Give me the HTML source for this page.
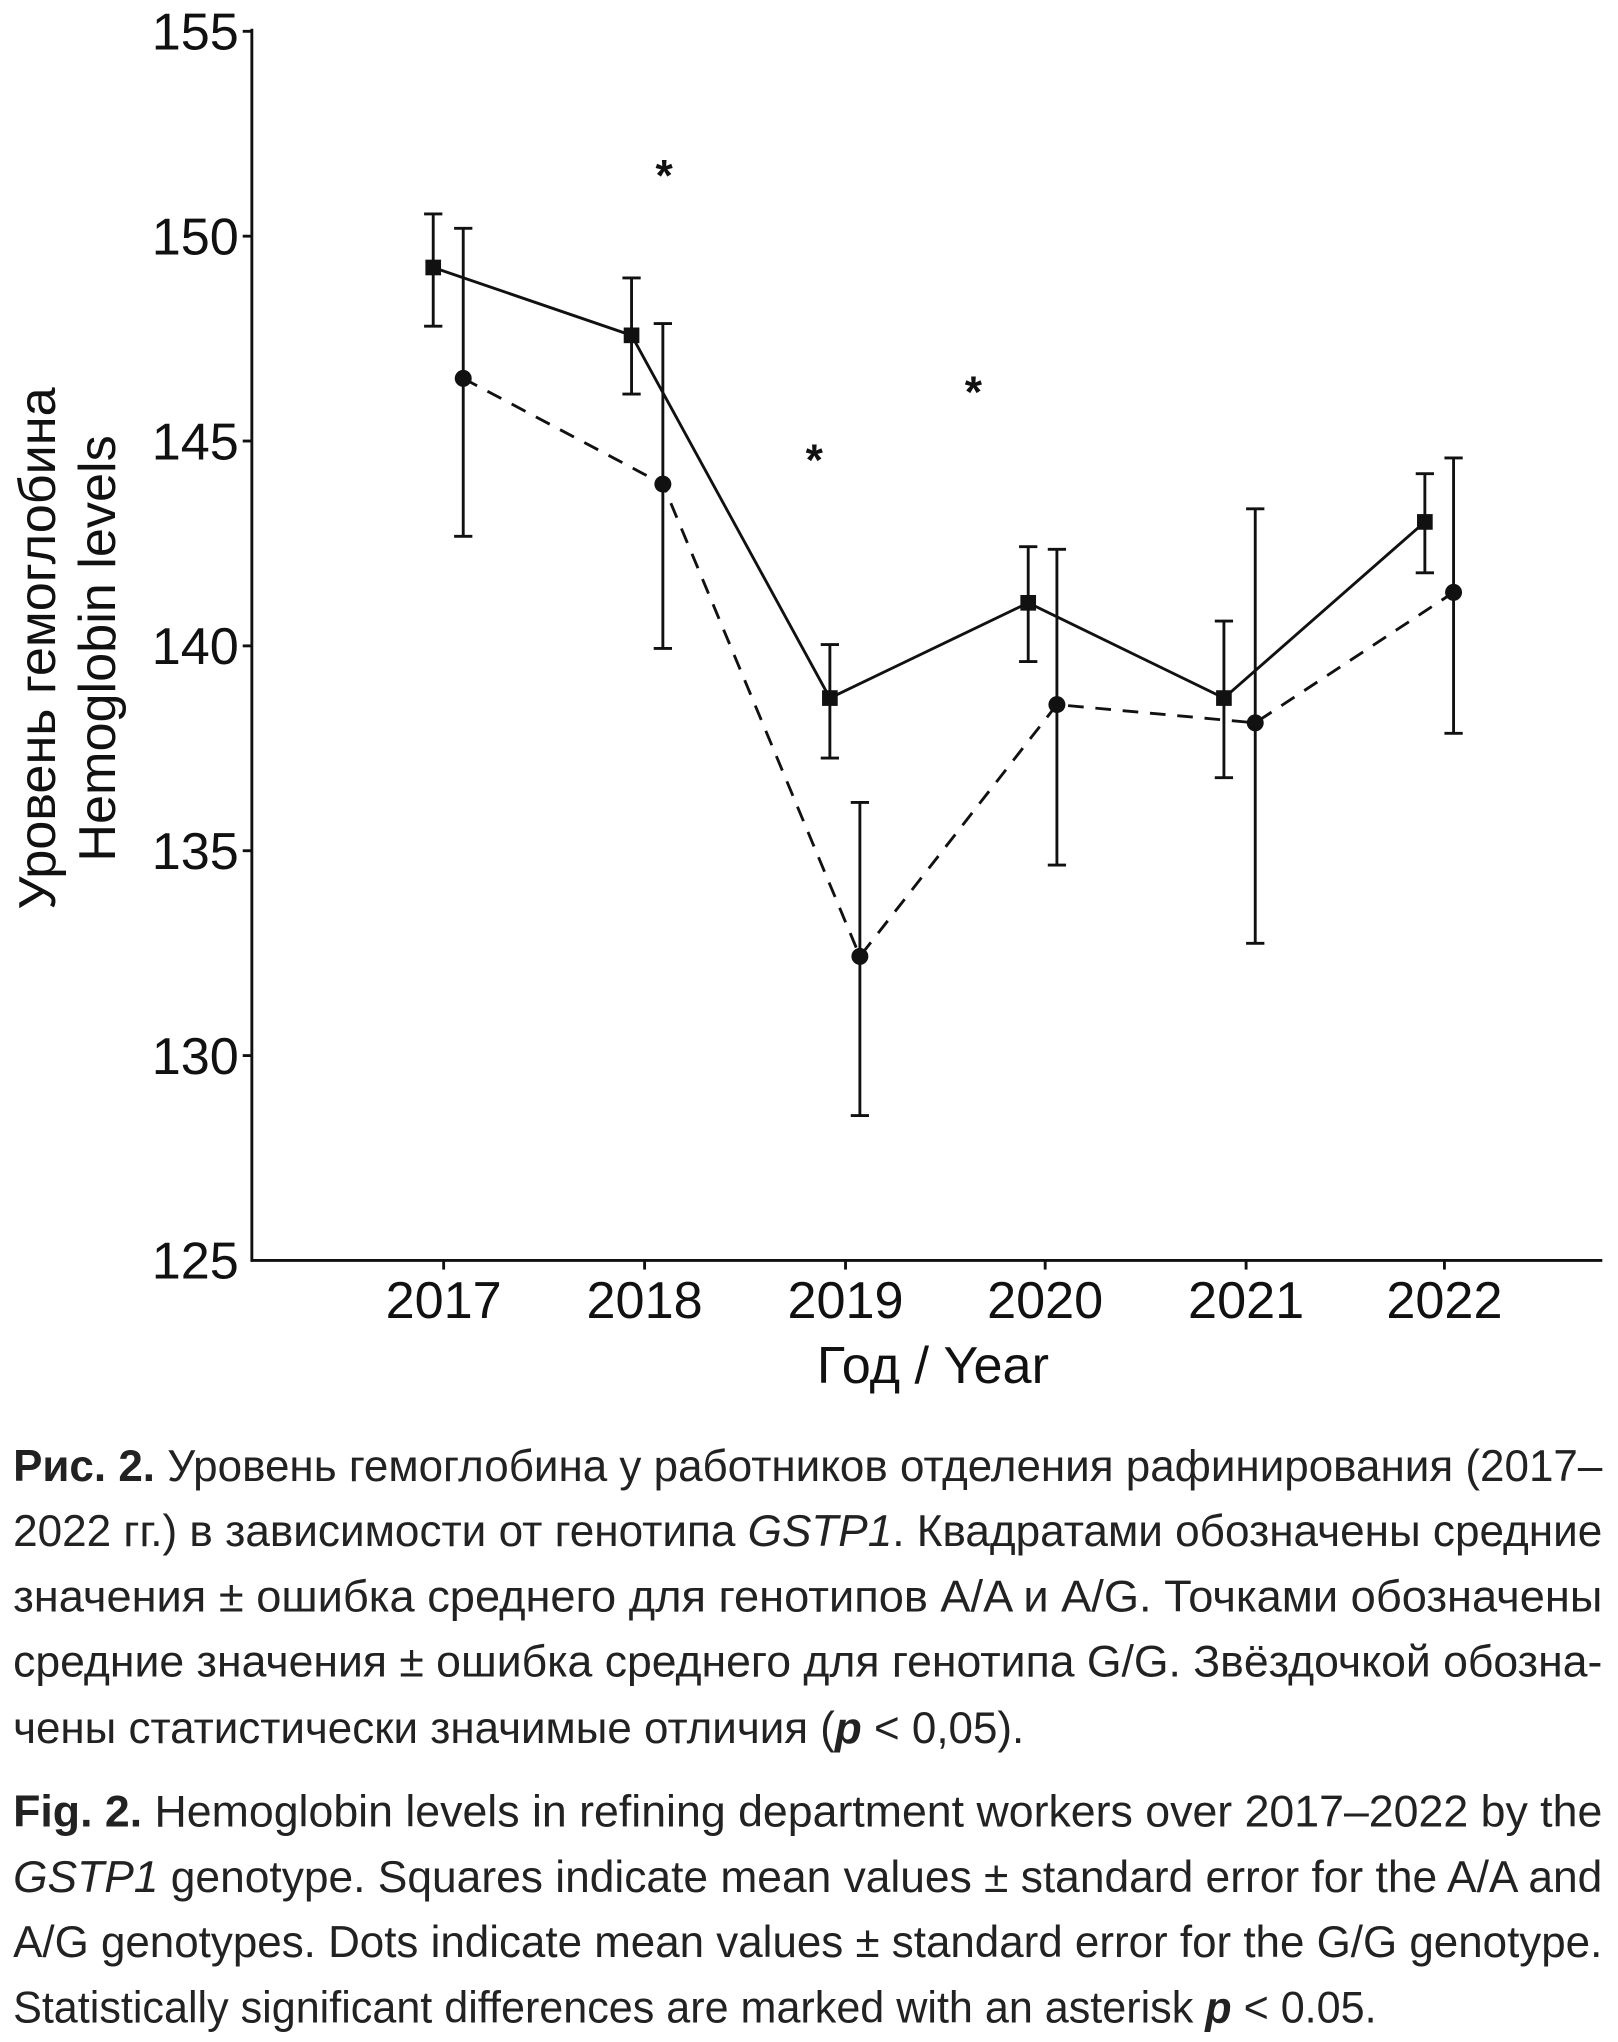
<!DOCTYPE html>
<html><head><meta charset="utf-8"><style>html,body{margin:0;padding:0;background:#fff}svg{display:block}</style></head>
<body>
<svg width="1618" height="2042" viewBox="0 0 1240 1565" xmlns="http://www.w3.org/2000/svg" font-family="Liberation Sans, sans-serif">
<rect width="1240" height="1565" fill="#fff"/>
<g stroke="#111" stroke-width="2.2" fill="none">
<line x1="193" y1="22" x2="193" y2="967"/>
<line x1="192" y1="966" x2="1228" y2="966"/>
<line x1="186" y1="24" x2="193" y2="24"/>
<line x1="186" y1="181" x2="193" y2="181"/>
<line x1="186" y1="338" x2="193" y2="338"/>
<line x1="186" y1="495" x2="193" y2="495"/>
<line x1="186" y1="652" x2="193" y2="652"/>
<line x1="186" y1="809" x2="193" y2="809"/>
<line x1="340" y1="966" x2="340" y2="973"/>
<line x1="494" y1="966" x2="494" y2="973"/>
<line x1="648" y1="966" x2="648" y2="973"/>
<line x1="801" y1="966" x2="801" y2="973"/>
<line x1="955" y1="966" x2="955" y2="973"/>
<line x1="1107" y1="966" x2="1107" y2="973"/>
</g>
<g font-size="40" fill="#111" text-anchor="end">
<text x="183" y="38">155</text><text x="183" y="195">150</text><text x="183" y="352">145</text>
<text x="183" y="509">140</text><text x="183" y="666">135</text><text x="183" y="823">130</text><text x="183" y="980">125</text>
</g>
<g font-size="40" fill="#111" text-anchor="middle">
<text x="340" y="1010">2017</text><text x="494" y="1010">2018</text><text x="648" y="1010">2019</text>
<text x="801" y="1010">2020</text><text x="955" y="1010">2021</text><text x="1107" y="1010">2022</text>
<text x="715" y="1060">Год / Year</text>
<text transform="translate(42,497) rotate(-90)">Уровень гемоглобина</text>
<text transform="translate(88,497) rotate(-90)">Hemoglobin levels</text>
</g>
<g stroke="#111" stroke-width="2.2" fill="none">
<polyline points="332,205 484,257 636,535 788,462 938,535 1092,400"/>
<polyline points="355,290 508,371 659,733 810,540 962,554 1114,454" stroke-dasharray="12,9"/>
<path d="M332,164V250M325,164H339M325,250H339
M484,213V302M477,213H491M477,302H491
M636,494V581M629,494H643M629,581H643
M788,419V507M781,419H795M781,507H795
M938,476V596M931,476H945M931,596H945
M1092,363V439M1085,363H1099M1085,439H1099
M355,175V411M348,175H362M348,411H362
M508,248V497M501,248H515M501,497H515
M659,615V855M652,615H666M652,855H666
M810,421V663M803,421H817M803,663H817
M962,390V723M955,390H969M955,723H969
M1114,351V562M1107,351H1121M1107,562H1121"/>
</g>
<g fill="#111">
<rect x="326" y="199" width="12" height="12"/><rect x="478" y="251" width="12" height="12"/>
<rect x="630" y="529" width="12" height="12"/><rect x="782" y="456" width="12" height="12"/>
<rect x="932" y="529" width="12" height="12"/><rect x="1086" y="394" width="12" height="12"/>
<circle cx="355" cy="290" r="6.5"/><circle cx="508" cy="371" r="6.5"/><circle cx="659" cy="733" r="6.5"/>
<circle cx="810" cy="540" r="6.5"/><circle cx="962" cy="554" r="6.5"/><circle cx="1114" cy="454" r="6.5"/>
</g>
<g font-size="34" font-weight="bold" fill="#111" text-anchor="middle">
<text x="509" y="146">*</text><text x="624" y="364">*</text><text x="746" y="312">*</text>
</g>
<g font-size="34" fill="#222">
<text x="10" y="1135" textLength="1218" lengthAdjust="spacingAndGlyphs"><tspan font-weight="bold">Рис. 2.</tspan> Уровень гемоглобина у работников отделения рафинирования (2017–</text>
<text x="10" y="1185" textLength="1218" lengthAdjust="spacingAndGlyphs">2022 гг.) в зависимости от генотипа <tspan font-style="italic">GSTP1</tspan>. Квадратами обозначены средние</text>
<text x="10" y="1235" textLength="1218" lengthAdjust="spacingAndGlyphs">значения ± ошибка среднего для генотипов A/A и A/G. Точками обозначены</text>
<text x="10" y="1285" textLength="1218" lengthAdjust="spacingAndGlyphs">средние значения ± ошибка среднего для генотипа G/G. Звёздочкой обозна-</text>
<text x="10" y="1336" textLength="775" lengthAdjust="spacingAndGlyphs">чены статистически значимые отличия (<tspan font-style="italic" font-weight="bold">p</tspan> &lt; 0,05).</text>
<text x="10" y="1400" textLength="1218" lengthAdjust="spacingAndGlyphs"><tspan font-weight="bold">Fig. 2.</tspan> Hemoglobin levels in refining department workers over 2017–2022 by the</text>
<text x="10" y="1450" textLength="1218" lengthAdjust="spacingAndGlyphs"><tspan font-style="italic">GSTP1</tspan> genotype. Squares indicate mean values ± standard error for the A/A and</text>
<text x="10" y="1500" textLength="1218" lengthAdjust="spacingAndGlyphs">A/G genotypes. Dots indicate mean values ± standard error for the G/G genotype.</text>
<text x="10" y="1550" textLength="1045" lengthAdjust="spacingAndGlyphs">Statistically significant differences are marked with an asterisk <tspan font-style="italic" font-weight="bold">p</tspan> &lt; 0.05.</text>
</g>
</svg>
</body></html>
